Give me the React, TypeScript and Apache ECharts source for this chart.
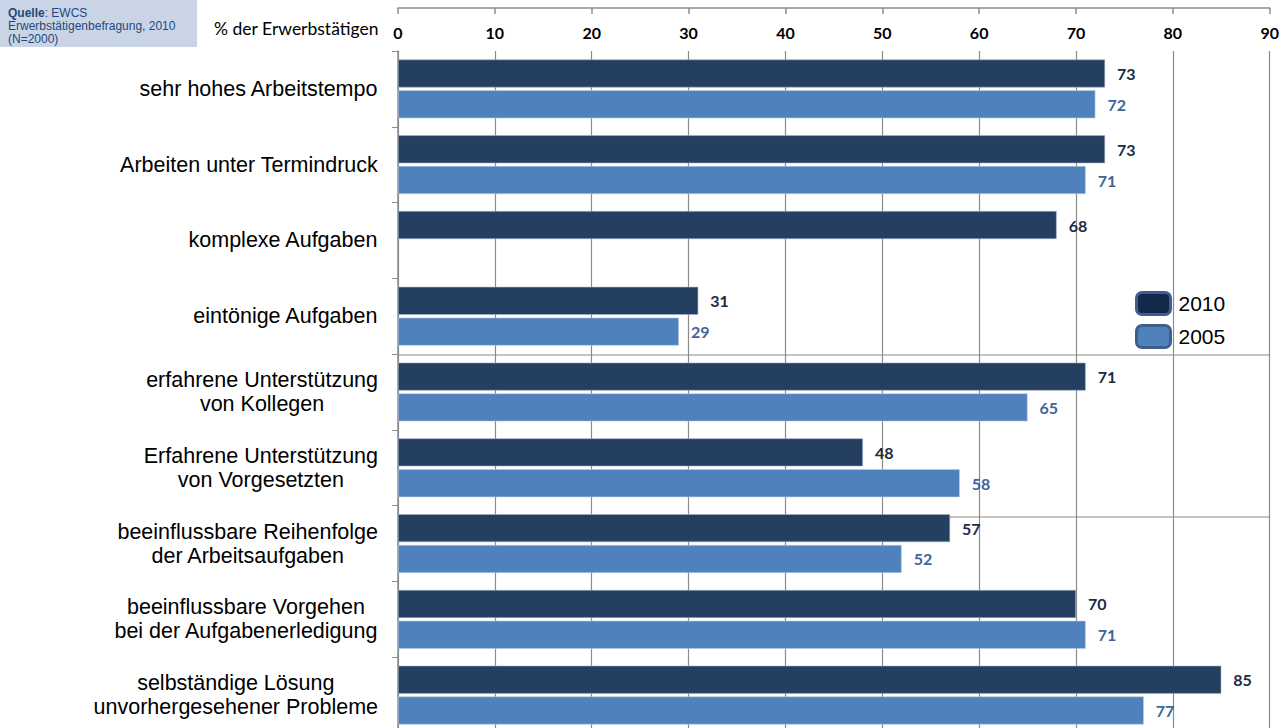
import React, { useEffect, useRef } from "react";
import * as echarts from "echarts";

const categories: string[] = [
  "sehr hohes Arbeitstempo",
  "Arbeiten unter Termindruck",
  "komplexe Aufgaben",
  "eintönige Aufgaben",
  "erfahrene Unterstützung\nvon Kollegen",
  "Erfahrene Unterstützung\nvon Vorgesetzten",
  "beeinflussbare Reihenfolge\nder Arbeitsaufgaben",
  "beeinflussbare Vorgehen\nbei der Aufgabenerledigung",
  "selbständige Lösung\nunvorhergesehener Probleme",
];

const values2010: (number | null)[] = [73, 73, 68, 31, 71, 48, 57, 70, 85];
const values2005: (number | null)[] = [72, 71, null, 29, 65, 58, 52, 71, 77];

const seriesNames = ["2010", "2005"];
const axisTicks = { min: 0, max: 90, interval: 10 };

const DARK = "#253f61";
const LIGHT = "#4f81bd";
const GRID_GRAY = "#8c8c8c";

export default function App() {
  const ref = useRef<HTMLDivElement>(null);

  useEffect(() => {
    if (!ref.current) return;
    const chart = echarts.init(ref.current, undefined, { renderer: "svg" });
    const labelFont = "Lato, 'Open Sans', sans-serif";
    const option: any = {
      animation: false,
      backgroundColor: "#ffffff",
      grid: { left: 398, right: 12, top: 51, height: 682 },
      legend: {
        orient: "vertical",
        left: 1130,
        top: 286,
        itemWidth: 34,
        itemHeight: 22,
        itemGap: 8,
        icon: "roundRect",
        textStyle: { fontFamily: "'Liberation Sans', Arial", fontSize: 21, color: "#000", padding: [0, 0, 0, 3] },
        data: [
          { name: seriesNames[0], itemStyle: { color: "#14284a", borderColor: "#3d5f8c", borderWidth: 3 } },
          { name: seriesNames[1], itemStyle: { color: LIGHT, borderColor: "#3d5f8c", borderWidth: 3 } },
        ],
      },
      xAxis: {
        type: "value",
        position: "top",
        offset: 43,
        min: axisTicks.min,
        max: axisTicks.max,
        interval: axisTicks.interval,
        axisLine: { show: true, lineStyle: { color: GRID_GRAY, width: 1.5 } },
        axisTick: { show: true, inside: true, length: 6, lineStyle: { color: GRID_GRAY, width: 1.5 } },
        axisLabel: {
          inside: true,
          margin: 16,
          fontFamily: labelFont,
          fontWeight: "bold",
          fontSize: 16,
          color: "#000",
        },
        splitLine: { show: true, lineStyle: { color: GRID_GRAY, width: 1.2 } },
      },
      yAxis: {
        type: "category",
        inverse: true,
        data: categories,
        axisLine: { show: true, lineStyle: { color: GRID_GRAY, width: 1.5 } },
        axisTick: { show: true, length: 6, lineStyle: { color: GRID_GRAY } },
        axisLabel: {
          margin: 20,
          align: "right",
          formatter: (v: string) => v.split("\n").map((l) => `{c|${l}}`).join("\n"),
          rich: {
            c: {
              align: "center",
              fontFamily: "'Liberation Sans', Arial",
              fontSize: 21.5,
              lineHeight: 24,
              color: "#000",
            },
          },
        },
      },
      series: [
        {
          name: seriesNames[0],
          type: "bar",
          data: values2010,
          barWidth: 28,
          barGap: "10%",
          itemStyle: { color: DARK, borderColor: "#9fb3cf", borderWidth: 0.6 },
          label: {
            show: true,
            position: "right",
            distance: 12,
            fontFamily: labelFont,
            fontWeight: "bold",
            fontSize: 16,
            color: "#1b2b45",
          },
        },
        {
          name: seriesNames[1],
          type: "bar",
          data: values2005,
          barWidth: 28,
          barGap: "10%",
          itemStyle: { color: LIGHT, borderColor: "#b9cce4", borderWidth: 0.6 },
          label: {
            show: true,
            position: "right",
            distance: 12,
            fontFamily: labelFont,
            fontWeight: "bold",
            fontSize: 16,
            color: "#3e659b",
          },
        },
      ],
      graphic: [
        {
          type: "rect",
          shape: { x: 0, y: 0, width: 197, height: 47 },
          style: { fill: "#c9d5e6" },
          silent: true,
        },
        {
          type: "text",
          x: 8,
          y: 6,
          style: {
            text: "{b|Quelle}: EWCS\nErwerbstätigenbefragung, 2010\n(N=2000)",
            fontFamily: "'Liberation Sans', Arial",
            fontSize: 12,
            lineHeight: 13,
            fill: "#1f497d",
            rich: { b: { fontWeight: "bold", fontFamily: "'Liberation Sans', Arial", fontSize: 12, fill: "#1f497d" } },
          },
        },
        {
          type: "text",
          x: 214,
          y: 28,
          style: {
            text: "% der Erwerbstätigen",
            fontFamily: labelFont,
            fontSize: 17.5,
            fill: "#000",
            verticalAlign: "middle",
          },
        },
        {
          type: "line",
          shape: { x1: 398, y1: 355, x2: 1270, y2: 355 },
          style: { stroke: GRID_GRAY, lineWidth: 1.2 },
          silent: true,
        },
        {
          type: "line",
          shape: { x1: 398, y1: 517, x2: 1270, y2: 517 },
          style: { stroke: GRID_GRAY, lineWidth: 1.2 },
          silent: true,
        },
      ],
    };
    chart.setOption(option);
    return () => chart.dispose();
  }, []);

  return (
    <div
      style={{ position: "absolute", left: 0, top: 0, width: 1282, height: 728, overflow: "hidden" }}
    >
      <div ref={ref} style={{ width: 1282, height: 740 }} />
    </div>
  );
}
